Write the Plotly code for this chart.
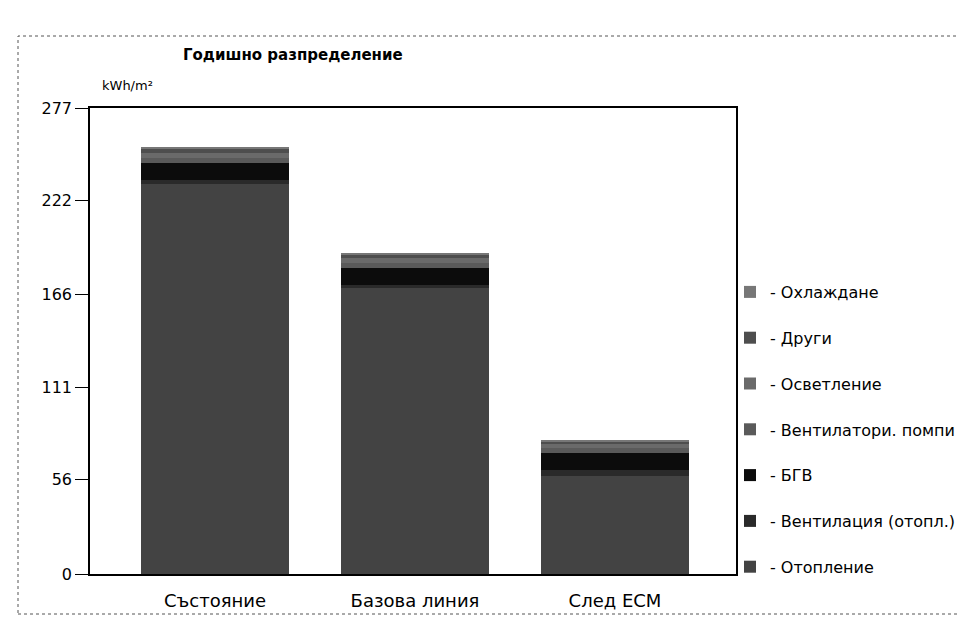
import plotly.graph_objects as go

categories = ["Състояние", "Базова линия", "След ЕСМ"]

# stacked from bottom to top
series_names = ["- Отопление", "- Вентилация (отопл.)", "- БГВ", "- Вентилатори. помпи",
                "- Осветление", "- Други", "- Охлаждане"]
heating = [232, 170, 58]
vent_heat = [2, 2, 4]
dhw = [10.5, 10, 10]
fans_pumps = [3, 3, 3]
lighting = [3, 3, 2.5]
other = [2.5, 2, 1.5]
cooling = [1, 0.5, 0.5]
series_values = [heating, vent_heat, dhw, fans_pumps, lighting, other, cooling]
series_colors = ["#434343", "#2a2a2a", "#0c0c0c", "#5a5a5a", "#6a6a6a", "#4e4e4e", "#777777"]

tick_vals = [0, 56, 111, 166, 222, 277]
tick_text = ["0", "56", "111", "166", "222", "277"]

fig = go.Figure()
n = len(series_names)
for i, (name, vals, col) in enumerate(zip(series_names, series_values, series_colors)):
    fig.add_trace(go.Bar(
        x=categories, y=vals, name=name, legendgroup=name, legendrank=n - i,
        marker=dict(color=col, line=dict(width=0)),
        width=0.74,
    ))

font = "DejaVu Sans, Liberation Sans, Arial, sans-serif"
W, H = 957, 612
L, T, R, B = 82, 100, 229, 46
pw, ph = W - L - R, H - T - B

def px_x(x):
    return (x - L) / pw

def px_y(y):
    return (H - B - y) / ph

fig.update_layout(
    barmode="stack",
    width=W, height=H,
    margin=dict(l=L, r=R, t=T, b=B, autoexpand=False),
    paper_bgcolor="white", plot_bgcolor="white",
    font=dict(family=font, size=16, color="black"),
    title=dict(text="<b>Годишно разпределение</b>", x=175/W, xanchor="left",
               y=1-47/H, yanchor="middle", font=dict(size=15, family=font, color="black")),
    showlegend=True,
    legend=dict(x=px_x(722), xanchor="left", y=px_y(267), yanchor="top",
                traceorder="grouped", tracegroupgap=22,
                font=dict(size=16, family=font), bgcolor="rgba(0,0,0,0)"),
    xaxis=dict(range=[-0.625, 2.605], showline=True, linecolor="black", linewidth=1.5,
               mirror=True, ticks="", tickfont=dict(size=18), ticklabelstandoff=10,
               fixedrange=True),
    yaxis=dict(range=[0, 277], tickvals=tick_vals, ticktext=tick_text, showline=True,
               linecolor="black", linewidth=1.5, mirror=True, ticks="outside", ticklen=13,
               tickcolor="black", showgrid=False, zeroline=False, tickfont=dict(size=16)),
    annotations=[dict(text="kWh/m²", x=px_x(92), y=px_y(78), xref="paper", yref="paper",
                      xanchor="left", yanchor="middle", showarrow=False,
                      font=dict(size=13, family=font))],
    shapes=[dict(type="rect", xref="paper", yref="paper",
                 x0=px_x(10), x1=px_x(955), y0=px_y(606), y1=px_y(28),
                 line=dict(color="#555", width=1, dash="dot"))],
)

fig.write_html("out.html")
